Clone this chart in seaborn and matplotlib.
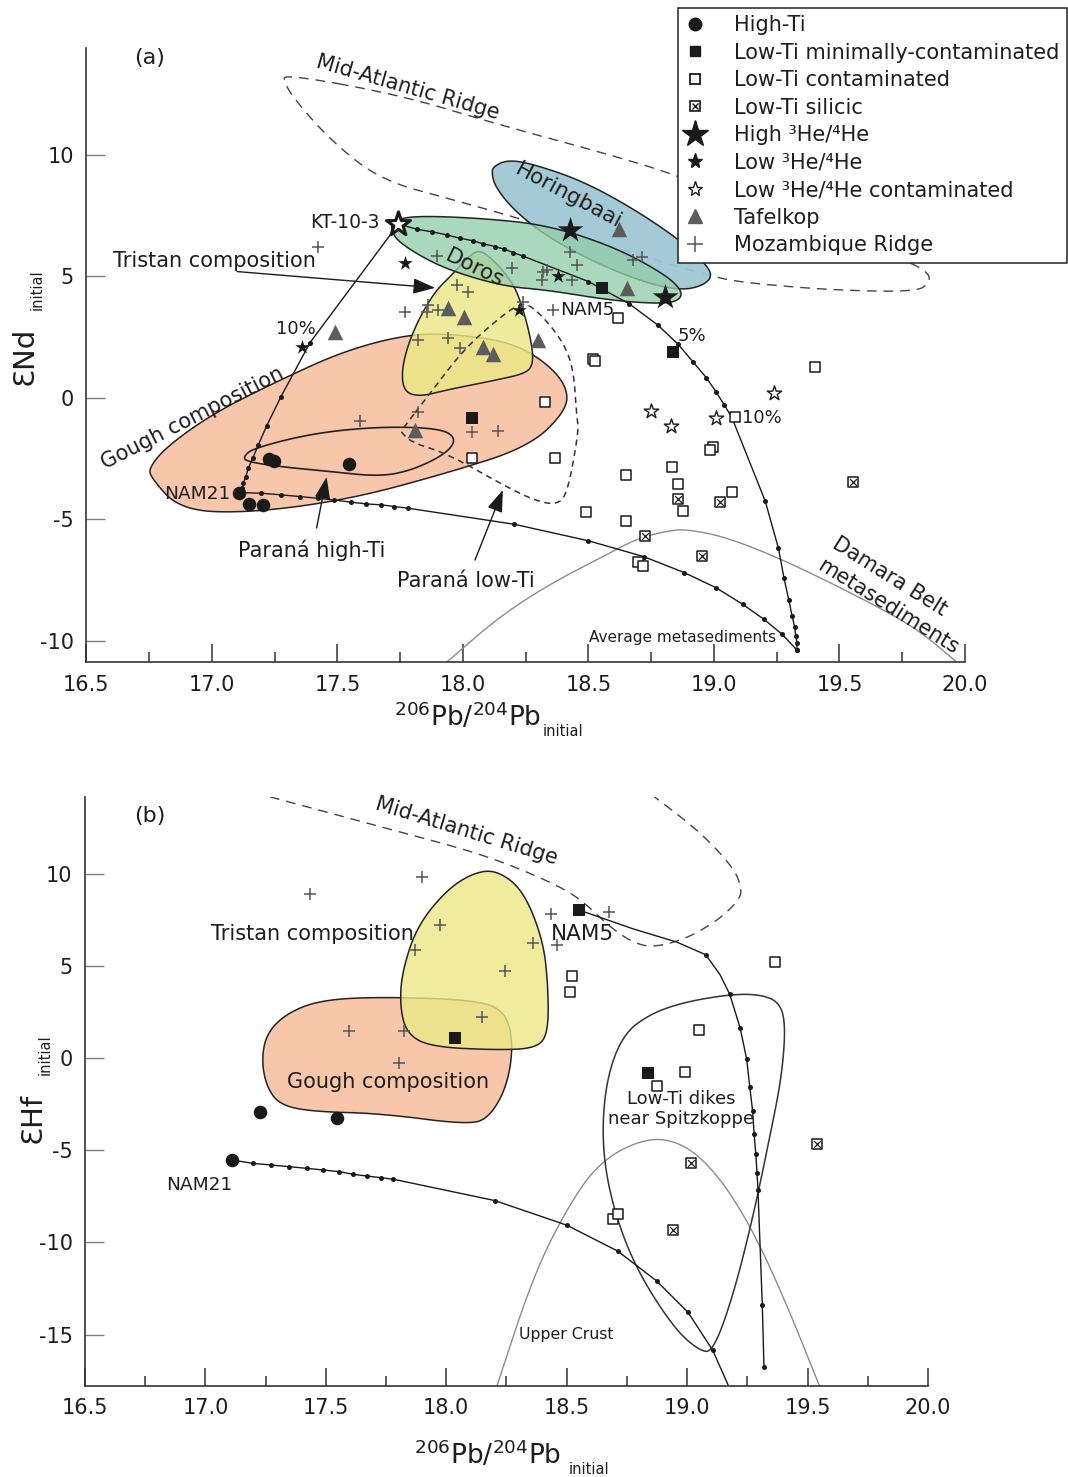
import numpy as np
import pandas as pd
import matplotlib
matplotlib.use("Agg")
import matplotlib.pyplot as plt
import seaborn as sns
from matplotlib.patches import Polygon
from matplotlib.lines import Line2D
from matplotlib.legend_handler import HandlerTuple
from matplotlib.colors import to_rgba

sns.set_theme(style="ticks")
plt.rcParams["font.family"] = ["DejaVu Sans"]
plt.rcParams["mathtext.fontset"] = "dejavusans"
plt.rcParams["axes.unicode_minus"] = False

# ---------------- Panel (a) data: eNd vs 206Pb/204Pb ----------------
a_hiti_x = [17.109, 17.149, 17.205, 17.229, 17.247, 17.547]
a_hiti_y = [-3.90, -4.36, -4.40, -2.52, -2.59, -2.73]
a_lowmin_x = [18.035, 18.553, 18.838]
a_lowmin_y = [-0.81, 4.51, 1.88]
a_lowcont_x = [18.327, 18.035, 18.367, 18.619, 18.520, 18.526, 19.403, 19.084, 18.996, 18.986,
               18.831, 18.648, 18.857, 19.071, 18.878, 18.492, 18.651, 18.696, 18.716]
a_lowcont_y = [-0.15, -2.46, -2.48, 3.28, 1.59, 1.52, 1.29, -0.77, -2.00, -2.14,
               -2.83, -3.17, -3.55, -3.87, -4.65, -4.70, -5.06, -6.76, -6.91]
a_sil_x = [18.856, 19.024, 19.553, 18.725, 18.951]
a_sil_y = [-4.17, -4.29, -3.47, -5.67, -6.49]
a_kt_x = [17.743]
a_kt_y = [7.16]
a_highhe_x = [18.427, 18.805]
a_highhe_y = [6.91, 4.17]
a_lowhe_x = [17.769, 17.359, 18.379, 18.224]
a_lowhe_y = [5.56, 2.10, 5.00, 3.62]
a_lowhec_x = [18.749, 18.827, 19.008, 19.241]
a_lowhec_y = [-0.53, -1.15, -0.81, 0.22]
a_taf_x = [18.623, 18.653, 17.942, 18.006, 18.081, 18.121, 18.300, 17.809, 17.490]
a_taf_y = [6.94, 4.54, 3.69, 3.35, 2.11, 1.81, 2.39, -1.32, 2.73]
a_moz_x = [17.424, 17.896, 18.194, 18.334, 18.314, 18.427, 18.433, 17.975, 18.022, 17.769,
           17.862, 17.856, 17.902, 18.241, 17.822, 17.942, 17.988, 17.822, 17.590, 18.035,
           18.141, 18.360, 18.320, 18.453, 18.679, 18.712]
a_moz_y = [6.23, 5.82, 5.34, 5.27, 4.86, 6.02, 4.86, 4.65, 4.37, 3.55,
           3.83, 3.55, 3.62, 3.96, 2.39, 2.46, 2.05, -0.56, -0.93, -1.39,
           -1.35, 3.62, 5.20, 5.47, 5.68, 5.79]

# mixing curves (a)
a_c1_x = [17.743, 17.391, 17.275, 17.218, 17.185, 17.163, 17.145, 17.135, 17.125, 17.119, 17.109]
a_c1_y = [7.16, 2.28, 0.05, -1.15, -1.93, -2.48, -2.89, -3.24, -3.51, -3.72, -3.90]
a_c2_x = [17.109, 17.196, 17.275, 17.351, 17.422, 17.488, 17.554, 17.614, 17.674, 17.727,
          17.782, 18.205, 18.500, 18.720, 18.882, 19.008, 19.114, 19.199, 19.272, 19.330]
a_c2_y = [-3.90, -3.92, -3.99, -4.06, -4.13, -4.20, -4.29, -4.36, -4.40, -4.47,
          -4.54, -5.20, -5.88, -6.53, -7.19, -7.81, -8.49, -9.11, -9.73, -10.37]
a_c3_x = [17.743, 17.816, 17.876, 17.935, 17.988, 18.039, 18.081, 18.128, 18.164, 18.201,
          18.238, 18.500, 18.663, 18.776, 18.856, 18.916, 18.969, 19.008, 19.041, 19.071,
          19.204, 19.257, 19.279, 19.298, 19.311, 19.321, 19.326, 19.331, 19.330]
a_c3_y = [7.16, 6.94, 6.84, 6.71, 6.57, 6.47, 6.34, 6.23, 6.12, 5.98,
          5.84, 4.79, 3.87, 3.00, 2.22, 1.49, 0.84, 0.26, -0.29, -0.80,
          -4.24, -6.19, -7.42, -8.31, -8.96, -9.41, -9.79, -10.09, -10.37]

# fields (a)
a_gough_x = [16.753, 16.873, 17.139, 17.537, 17.935, 18.267, 18.414, 18.414, 18.334, 18.201,
             18.002, 17.802, 17.537, 17.271, 17.006, 16.820, 16.753]
a_gough_y = [-3.24, -4.61, -4.74, -4.20, -3.10, -2.00, -0.49, 0.47, 1.43, 2.25,
             2.59, 2.66, 1.98, 0.74, -0.63, -2.00, -2.83]
a_tristan_x = [18.068, 18.121, 18.201, 18.241, 18.274, 18.280, 18.254, 18.135, 17.935, 17.829,
               17.763, 17.756, 17.802, 17.882, 17.962, 18.028]
a_tristan_y = [6.09, 5.68, 4.72, 3.62, 2.25, 1.43, 1.02, 0.74, 0.33, 0.05,
               0.26, 1.29, 2.80, 4.31, 5.13, 5.88]
a_horing_x = [18.121, 18.175, 18.267, 18.467, 18.666, 18.865, 18.978, 18.991, 18.945, 18.865,
              18.732, 18.533, 18.334, 18.201, 18.128, 18.115]
a_horing_y = [9.52, 9.79, 9.66, 8.97, 7.87, 6.50, 5.40, 4.93, 4.58, 4.44,
              4.72, 5.54, 6.64, 7.74, 8.70, 9.25]
a_doros_x = [17.716, 17.802, 18.068, 18.334, 18.599, 18.798, 18.872, 18.865, 18.798, 18.599,
             18.334, 18.175, 18.002, 17.869, 17.749, 17.716]
a_doros_y = [7.26, 7.50, 7.40, 7.12, 6.23, 5.13, 4.44, 4.03, 3.87, 4.00,
             4.44, 4.58, 5.06, 5.61, 6.37, 6.84]
a_phiti_x = [17.125, 17.165, 17.404, 17.670, 17.909, 17.975, 17.935, 17.802, 17.670, 17.471,
             17.271, 17.139]
a_phiti_y = [-2.42, -2.07, -1.45, -1.18, -1.25, -1.66, -2.28, -2.96, -3.24, -3.03,
             -2.83, -2.62]
a_plowti_x = [17.756, 17.869, 18.002, 18.135, 18.227, 18.280, 18.387, 18.440, 18.453, 18.462,
              18.414, 18.365, 18.282, 18.172, 17.935, 17.802, 17.756]
a_plowti_y = [-1.32, 0.19, 1.98, 3.21, 3.90, 3.76, 2.52, 1.29, -0.77, -1.32,
              -4.06, -4.40, -4.20, -3.65, -2.28, -1.86, -1.45]
a_mar_x = [17.291, 17.749, 18.148, 18.546, 18.853, 19.343, 19.741, 19.853, 19.861, 19.801,
           19.463, 19.132, 18.996, 18.745, 18.347, 18.148, 17.961, 17.670, 17.471, 17.331,
           17.287]
a_mar_y = [13.33, 12.47, 11.23, 10.12, 9.18, 7.12, 5.76, 5.19, 4.73, 4.36,
           4.44, 4.73, 4.98, 5.76, 7.00, 7.61, 8.15, 8.97, 10.62, 12.26,
           13.00]
a_damara_x = [17.938, 18.145, 18.351, 18.558, 18.696, 18.834, 18.903, 19.041, 19.247, 19.523,
              19.799, 19.965]
a_damara_y = [-10.85, -9.00, -7.63, -6.53, -5.77, -5.43, -5.43, -5.71, -6.53, -7.90,
              -9.41, -10.85]

# ---------------- Panel (b) data: eHf vs 206Pb/204Pb ----------------
b_hiti_x = [17.226, 17.545, 17.111]
b_hiti_y = [-2.91, -3.27, -5.53]
b_lowmin_x = [18.036, 18.552, 18.838]
b_lowmin_y = [1.07, 8.02, -0.79]
b_lowcont_x = [18.524, 18.513, 19.363, 19.050, 18.991, 18.876, 18.693, 18.714]
b_lowcont_y = [4.42, 3.56, 5.18, 1.52, -0.74, -1.50, -8.70, -8.48]
b_sil_x = [19.541, 19.017, 18.940]
b_sil_y = [-4.68, -5.69, -9.30]
b_moz_x = [17.434, 17.898, 17.974, 17.870, 18.361, 18.243, 18.147, 17.597, 17.824, 17.803,
           18.434, 18.458, 18.676]
b_moz_y = [8.89, 9.79, 7.21, 5.85, 6.25, 4.72, 2.24, 1.48, 1.48, -0.25,
           7.80, 6.12, 7.91]
b_c1_x = [17.111, 17.196, 17.272, 17.348, 17.420, 17.489, 17.556, 17.611, 17.672, 17.729,
          17.780, 18.202, 18.500, 18.711, 18.873, 19.004, 19.106, 19.170]
b_c1_y = [-5.53, -5.71, -5.80, -5.89, -5.98, -6.07, -6.16, -6.30, -6.40, -6.49,
          -6.57, -7.73, -9.06, -10.46, -12.08, -13.79, -15.84, -17.72]
b_c2_x = [18.552, 18.776, 18.956, 19.077, 19.136, 19.177, 19.220, 19.247, 19.260, 19.272,
          19.278, 19.285, 19.290, 19.294, 19.312, 19.319]
b_c2_y = [8.02, 7.00, 6.29, 5.60, 4.53, 3.45, 1.63, -0.05, -1.56, -2.89,
          -4.10, -5.19, -6.21, -7.13, -13.39, -16.77]
b_c2_dot = [3, 5, 6, 7, 8, 9, 10, 11, 12, 13, 14, 15]
b_gough_x = [17.254, 17.337, 17.476, 17.725, 18.140, 18.251, 18.278, 18.251, 18.181, 18.098,
             17.725, 17.448, 17.309, 17.254, 17.233]
b_gough_y = [1.34, 2.42, 3.14, 3.32, 3.14, 2.42, 0.61, -1.56, -3.18, -3.63,
             -3.00, -2.91, -2.55, -1.56, -0.11]
b_tristan_x = [18.209, 18.319, 18.402, 18.423, 18.423, 18.375, 18.209, 17.932, 17.835, 17.808,
               17.815, 17.877, 18.001, 18.112]
b_tristan_y = [10.19, 9.11, 6.40, 3.86, 1.34, 0.53, 0.43, 0.61, 1.34, 2.78,
               4.59, 7.12, 9.11, 10.04]
b_dikes_x = [19.177, 19.302, 19.385, 19.409, 19.392, 19.343, 19.274, 19.191, 19.108, 19.053,
             18.942, 18.776, 18.679, 18.645, 18.666, 18.735, 18.845, 18.984]
b_dikes_y = [3.45, 3.45, 3.02, 1.73, -1.06, -4.29, -8.59, -12.89, -15.90, -15.90,
             -14.61, -11.17, -7.52, -4.29, -1.06, 1.30, 2.38, 3.02]
b_mar_x = [17.268, 17.725, 18.140, 18.417, 18.555, 18.679, 18.776, 18.859, 18.998, 19.136,
           19.219, 19.226, 19.191, 19.053, 18.859]
b_mar_y = [14.16, 12.54, 11.10, 9.65, 8.66, 7.10, 6.25, 5.99, 6.47, 7.54,
           8.62, 9.27, 10.34, 12.27, 14.21]
b_crust_x = [18.210, 18.361, 18.500, 18.638, 18.832, 18.984, 19.122, 19.260, 19.399, 19.551]
b_crust_y = [-17.78, -11.82, -8.16, -5.58, -4.29, -4.61, -6.23, -9.02, -12.89, -17.83]

x_ticks = [16.5, 17.0, 17.5, 18.0, 18.5, 19.0, 19.5, 20.0]
x_ticklabels = ["16.5", "17.0", "17.5", "18.0", "18.5", "19.0", "19.5", "20.0"]
x_minor = [16.75, 17.25, 17.75, 18.25, 18.75, 19.25, 19.75]
a_yticks = [-10, -5, 0, 5, 10]
b_yticks = [-15, -10, -5, 0, 5, 10]

TXT = "#1e1e1e"
C_GOUGH = "#f8c6aa"
C_TRIS = "#ebe886"
C_DOROS = "#93cdab"
C_HORING = "#9fc7d5"
C_TAF = "#5c5c5c"
C_MOZ = "#555555"


def chaikin(xs, ys, closed=True, n=4):
    pts = np.column_stack([xs, ys]).astype(float)
    for _ in range(n):
        if closed:
            p0 = pts
            p1 = np.roll(pts, -1, axis=0)
        else:
            p0 = pts[:-1]
            p1 = pts[1:]
        q = 0.75 * p0 + 0.25 * p1
        r = 0.25 * p0 + 0.75 * p1
        new = np.empty((2 * len(p0), 2))
        new[0::2] = q
        new[1::2] = r
        if not closed:
            new = np.vstack([pts[0], new, pts[-1]])
        pts = new
    return pts


def field(ax, xs, ys, fc=None, alpha=1.0, z=1, ls="-", lw=1.1, ec="#222222"):
    pts = chaikin(xs, ys, True)
    face = to_rgba(fc, alpha) if fc else "none"
    ax.add_patch(Polygon(pts, closed=True, facecolor=face, edgecolor=ec, lw=lw, ls=ls, zorder=z))


def curve(ax, xs, ys, color="k", lw=1.0, ls="-", smooth=False, z=3):
    if smooth:
        p = chaikin(xs, ys, False)
        xs, ys = p[:, 0], p[:, 1]
    sns.lineplot(x=list(xs), y=list(ys), ax=ax, sort=False, estimator=None, color=color,
                 lw=lw, linestyle=ls, zorder=z, legend=False)


def dots(ax, xs, ys, z=4):
    sns.scatterplot(x=xs, y=ys, ax=ax, marker="o", s=13, color="k", edgecolor="k",
                    linewidth=0, zorder=z, legend=False)


def pts(ax, xs, ys, **kw):
    sns.scatterplot(x=xs, y=ys, ax=ax, legend=False, **kw)


def silicic(ax, xs, ys):
    pts(ax, xs, ys, marker="s", s=62, color="white", edgecolor="k", linewidth=1.1, zorder=6)
    pts(ax, xs, ys, marker="x", s=24, color="k", linewidth=0.9, zorder=7)


def style(ax, yticks, ylim):
    ax.set_xlim(16.5, 20.0)
    ax.set_ylim(*ylim)
    ax.set_xticks(x_ticks)
    ax.set_xticklabels(x_ticklabels)
    ax.set_xticks(x_minor, minor=True)
    ax.set_yticks(yticks)
    ax.set_yticklabels([str(v) for v in yticks])
    for s in ["top", "right"]:
        ax.spines[s].set_visible(False)
    for s in ["left", "bottom"]:
        ax.spines[s].set_color("#333333")
        ax.spines[s].set_linewidth(1.2)
    ax.tick_params(axis="x", which="major", direction="in", length=13, width=1.1,
                   color="#333333", labelsize=15, labelcolor=TXT, pad=9, bottom=True)
    ax.tick_params(axis="x", which="minor", direction="in", length=7, width=1.1,
                   color="#333333", bottom=True)
    ax.tick_params(axis="y", which="major", direction="in", length=14, width=1.0,
                   color="#808080", labelsize=15, labelcolor=TXT, pad=9, left=True)
    ax.set_xlabel("")
    ax.set_ylabel("")
    ax.grid(False)


def label(ax, x, y, s, size=15, rot=0, ha="center", z=8, **kw):
    ax.text(x, y, s, fontsize=size, rotation=rot, ha=ha, va="center", color=TXT,
            rotation_mode="anchor", zorder=z, **kw)


def arrow(ax, tail, head):
    ax.annotate("", xy=head, xytext=tail, zorder=8,
                arrowprops=dict(arrowstyle="-|>,head_length=0.9,head_width=0.32", color="#1a1a1a",
                                lw=1.0, shrinkA=0, shrinkB=0, mutation_scale=15))


W, H = 1068, 1477
fig = plt.figure(figsize=(W / 100, H / 100), dpi=100)
axA = fig.add_axes([86.4 / W, 1 - 662.3 / H, (965 - 86.4) / W, (662.3 - 48) / H])
axB = fig.add_axes([85 / W, 1 - 1386 / H, (928 - 85) / W, (1386 - 797) / H])

# ---------------- Panel (a) ----------------
ax = axA
field(ax, a_mar_x, a_mar_y, None, ls=(0, (7, 5)), lw=1.0, ec="#444444", z=1)
field(ax, a_gough_x, a_gough_y, C_GOUGH, 1.0, z=1.2)
field(ax, a_tristan_x, a_tristan_y, C_TRIS, 0.82, z=1.4)
field(ax, a_horing_x, a_horing_y, C_HORING, 0.95, z=1.6)
field(ax, a_doros_x, a_doros_y, C_DOROS, 0.78, z=1.8)
field(ax, a_phiti_x, a_phiti_y, None, lw=1.2, z=2.5)
field(ax, a_plowti_x, a_plowti_y, None, ls=(0, (4, 3)), lw=1.1, ec="#333333", z=2.5)
curve(ax, a_damara_x, a_damara_y, color="#8c8c8c", lw=1.0, smooth=True, z=2.2)

curve(ax, a_c1_x, a_c1_y)
curve(ax, a_c2_x, a_c2_y)
curve(ax, a_c3_x, a_c3_y)
dots(ax, a_c1_x[1:-1], a_c1_y[1:-1])
dots(ax, a_c2_x[1:], a_c2_y[1:])
dots(ax, a_c3_x[1:], a_c3_y[1:])

pts(ax, a_moz_x, a_moz_y, marker="+", s=80, color=C_MOZ, linewidth=1.1, zorder=5)
pts(ax, a_taf_x, a_taf_y, marker="^", s=125, color=C_TAF, edgecolor=C_TAF, linewidth=0, zorder=5)
pts(ax, a_lowcont_x, a_lowcont_y, marker="s", s=62, color="white", edgecolor="k", linewidth=1.1, zorder=6)
silicic(ax, a_sil_x, a_sil_y)
pts(ax, a_lowmin_x, a_lowmin_y, marker="s", s=70, color="k", edgecolor="k", linewidth=0, zorder=6)
pts(ax, a_hiti_x, a_hiti_y, marker="o", s=95, color="k", edgecolor="k", linewidth=0, zorder=6)
pts(ax, a_lowhec_x, a_lowhec_y, marker="*", s=120, color="white", edgecolor="k", linewidth=1.0, zorder=6)
pts(ax, a_lowhe_x, a_lowhe_y, marker="*", s=120, color="k", edgecolor="k", linewidth=0, zorder=6)
pts(ax, a_highhe_x, a_highhe_y, marker="*", s=380, color="k", edgecolor="k", linewidth=0, zorder=6)
pts(ax, a_kt_x, a_kt_y, marker="*", s=330, color="white", edgecolor="k", linewidth=2.2, zorder=6)

arrow(ax, (17.100, 5.20), (17.889, 4.53))
arrow(ax, (17.417, -5.35), (17.457, -3.25))
arrow(ax, (18.048, -6.67), (18.159, -3.79))

label(ax, 16.753, 13.99, "(a)", 16)
label(ax, 17.781, 12.76, "Mid-Atlantic Ridge", 15, rot=-16)
label(ax, 18.419, 8.31, "Horingbaai", 15.5, rot=-28)
label(ax, 18.048, 5.35, "Doros", 15.5, rot=-26)
label(ax, 17.530, 7.20, "KT-10-3", 13.5)
label(ax, 17.012, 5.64, "Tristan composition", 15)
label(ax, 17.335, 2.84, "10%", 13)
label(ax, 16.921, -0.82, "Gough composition", 15, rot=27)
label(ax, 16.941, -3.95, "NAM21", 13.3)
label(ax, 18.494, 3.62, "NAM5", 13.3)
label(ax, 18.913, 2.55, "5%", 13)
label(ax, 19.192, -0.82, "10%", 13)
label(ax, 17.399, -6.26, "Paraná high-Ti", 15)
label(ax, 18.012, -7.53, "Paraná low-Ti", 15)
label(ax, 19.698, -7.37, "Damara Belt", 15, rot=-32)
label(ax, 19.694, -8.60, "metasediments", 15, rot=-32)
label(ax, 18.873, -9.84, "Average metasediments", 11)
style(ax, a_yticks, (-10.88, 14.40))

# ---------------- Panel (b) ----------------
ax = axB
curve(ax, b_mar_x, b_mar_y, color="#444444", lw=1.0, ls=(0, (7, 5)), smooth=True, z=1)
field(ax, b_gough_x, b_gough_y, C_GOUGH, 1.0, z=1.2)
field(ax, b_tristan_x, b_tristan_y, C_TRIS, 0.8, z=1.4)
field(ax, b_dikes_x, b_dikes_y, None, lw=1.1, ec="#333333", z=2.5)
curve(ax, b_crust_x, b_crust_y, color="#8c8c8c", lw=1.0, smooth=True, z=2.2)

curve(ax, b_c1_x, b_c1_y)
curve(ax, b_c2_x, b_c2_y)
dots(ax, b_c1_x[1:-1], b_c1_y[1:-1])
dots(ax, [b_c2_x[i] for i in b_c2_dot], [b_c2_y[i] for i in b_c2_dot])

pts(ax, b_moz_x, b_moz_y, marker="+", s=80, color=C_MOZ, linewidth=1.1, zorder=5)
pts(ax, b_lowcont_x, b_lowcont_y, marker="s", s=62, color="white", edgecolor="k", linewidth=1.1, zorder=6)
silicic(ax, b_sil_x, b_sil_y)
pts(ax, b_lowmin_x, b_lowmin_y, marker="s", s=70, color="k", edgecolor="k", linewidth=0, zorder=6)
pts(ax, b_hiti_x, b_hiti_y, marker="o", s=95, color="k", edgecolor="k", linewidth=0, zorder=6)

label(ax, 16.770, 13.12, "(b)", 16)
label(ax, 18.082, 12.30, "Mid-Atlantic Ridge", 15, rot=-17)
label(ax, 17.446, 6.72, "Tristan composition", 15)
label(ax, 18.567, 6.72, "NAM5", 15.5)
label(ax, 17.758, -1.30, "Gough composition", 15)
ax.text(18.974, -2.76, "Low-Ti dikes\nnear Spitzkoppe", fontsize=13, ha="center", va="center",
        color=TXT, linespacing=1.1, zorder=8)
label(ax, 16.973, -6.88, "NAM21", 13.3)
label(ax, 18.497, -15.01, "Upper Crust", 11.3)
style(ax, b_yticks, (-17.78, 14.15))

# ---------------- axis titles ----------------
fig.text(468 / W, 1 - 717 / H, r"$^{206}$Pb/$^{204}$Pb", fontsize=19, ha="center", va="center", color=TXT)
fig.text(543 / W, 1 - 731 / H, "initial", fontsize=10.5, ha="left", va="center", color=TXT)
fig.text(488 / W, 1 - 1455 / H, r"$^{206}$Pb/$^{204}$Pb", fontsize=19, ha="center", va="center", color=TXT)
fig.text(569 / W, 1 - 1469 / H, "initial", fontsize=10.5, ha="left", va="center", color=TXT)
fig.text(25 / W, 1 - 356 / H, "ƐNd", fontsize=21, rotation=90, ha="center", va="center", color=TXT)
fig.text(37 / W, 1 - 290 / H, "initial", fontsize=10.5, rotation=90, ha="center", va="center", color=TXT)
fig.text(33 / W, 1 - 1118 / H, "ƐHf", fontsize=21, rotation=90, ha="center", va="center", color=TXT)
fig.text(45 / W, 1 - 1055 / H, "initial", fontsize=10.5, rotation=90, ha="center", va="center", color=TXT)

# ---------------- legend ----------------
handles = [
    Line2D([], [], ls="none", marker="o", ms=9, mfc="k", mec="k"),
    Line2D([], [], ls="none", marker="s", ms=7, mfc="k", mec="k"),
    Line2D([], [], ls="none", marker="s", ms=7, mfc="white", mec="k", mew=1.3),
    (Line2D([], [], ls="none", marker="s", ms=7, mfc="white", mec="k", mew=1.2),
     Line2D([], [], ls="none", marker="x", ms=4.5, mec="k", mew=1.0)),
    Line2D([], [], ls="none", marker="*", ms=20, mfc="k", mec="k"),
    Line2D([], [], ls="none", marker="*", ms=11, mfc="k", mec="k"),
    Line2D([], [], ls="none", marker="*", ms=11, mfc="white", mec="k", mew=1.0),
    Line2D([], [], ls="none", marker="^", ms=10, mfc=C_TAF, mec=C_TAF),
    Line2D([], [], ls="none", marker="+", ms=11, mec=C_MOZ, mew=1.1),
]
labels = ["High-Ti", "Low-Ti minimally-contaminated", "Low-Ti contaminated", "Low-Ti silicic",
          "High \u00b3He/\u2074He", "Low \u00b3He/\u2074He", "Low \u00b3He/\u2074He contaminated",
          "Tafelkop", "Mozambique Ridge"]
leg = fig.legend(handles, labels, loc="upper right", bbox_to_anchor=(1066.5 / W, 1 - 8 / H),
                 fontsize=15, frameon=True, fancybox=False, edgecolor="#222222", framealpha=1,
                 borderpad=0.35, labelspacing=0.36, handlelength=1.0, handletextpad=1.35,
                 borderaxespad=0, handler_map={tuple: HandlerTuple(ndivide=1, pad=0)})
leg.get_frame().set_linewidth(1.1)
for t in leg.get_texts():
    t.set_color(TXT)

fig.savefig("out.png", dpi=100)
